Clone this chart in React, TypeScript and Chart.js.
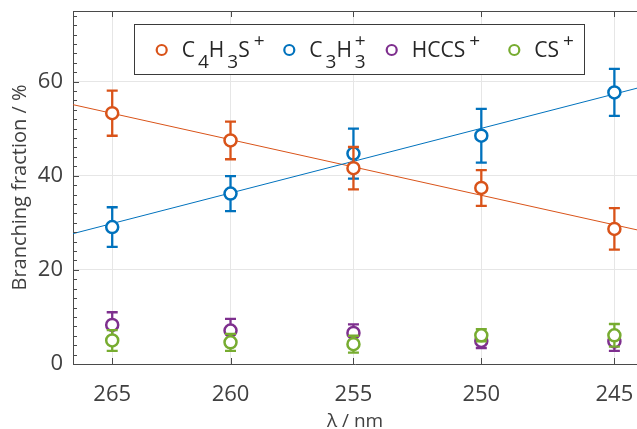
import React, { useEffect, useRef } from 'react';
import { Chart, registerables } from 'chart.js';

Chart.register(...registerables);

// ---------- data ----------
const wavelengths = [265, 260, 255, 250, 245]; // nm (tick positions)
const c4h3s = [53.3, 47.5, 41.6, 37.4, 28.7];
const c4h3sErr = [4.8, 4.0, 4.5, 3.8, 4.4];
const c3h3 = [29.1, 36.2, 44.7, 48.5, 57.7];
const c3h3Err = [4.2, 3.7, 5.3, 5.7, 5.0];
const hccs = [8.3, 7.1, 6.6, 4.9, 4.8];
const hccsErr = [2.7, 2.5, 1.8, 1.5, 2.0];
const cs = [5.0, 4.6, 4.2, 6.1, 6.1];
const csErr = [2.2, 1.8, 1.8, 1.3, 2.4];
const axisLimitsNm = [266.7, 244.17]; // x-axis limits in nm
const c4h3sFit = [55.1, 28.5]; // linear fit values at axis limits
const c3h3Fit = [27.7, 58.6];
const yTicks = [0, 20, 40, 60];
const yMin = 0;
const yMax = 75;
const yMinorStep = 2;

// ---------- style ----------
const ORANGE = '#D95319';
const BLUE = '#0072BD';
const PURPLE = '#7E2F8E';
const GREEN = '#77AC30';
const AXIS = '#4a4a4a';
const TEXT = '#404040';
const GRID = '#e6e6e6';
const FONT = '"Open Sans", "Noto Sans", sans-serif';

const toWn = (nm: number) => 1e7 / nm; // energy-like axis (cm^-1)

type Part = [string, 'n' | 'sub' | 'sup' | 'subsup', string?];
const legendItems: { color: string; parts: Part[] }[] = [
  { color: ORANGE, parts: [['C', 'n'], ['4', 'sub'], ['H', 'n'], ['3', 'sub'], ['S', 'n'], ['+', 'sup']] },
  { color: BLUE, parts: [['C', 'n'], ['3', 'sub'], ['H', 'n'], ['3', 'subsup', '+']] },
  { color: PURPLE, parts: [['HCCS', 'n'], ['+', 'sup']] },
  { color: GREEN, parts: [['CS', 'n'], ['+', 'sup']] },
];

const pts = (vals: number[]) => vals.map((v, i) => ({ x: toWn(wavelengths[i]), y: v }));
const fitPts = (vals: number[]) => vals.map((v, i) => ({ x: toWn(axisLimitsNm[i]), y: v }));

const errorBarPlugin = {
  id: 'errorBars',
  beforeDatasetDraw(chart: any, args: any) {
    const ds = chart.data.datasets[args.index];
    if (!ds.errors) return;
    const { ctx } = chart;
    const ys = chart.scales.y;
    ctx.save();
    ctx.strokeStyle = ds.borderColor;
    ctx.lineWidth = 2.3;
    ctx.beginPath();
    args.meta.data.forEach((el: any, i: number) => {
      const v = ds.data[i].y;
      const e = ds.errors[i];
      const x = el.x;
      const yt = ys.getPixelForValue(v + e);
      const yb = ys.getPixelForValue(v - e);
      ctx.moveTo(x, yt);
      ctx.lineTo(x, yb);
      ctx.moveTo(x - 5.5, yt);
      ctx.lineTo(x + 5.5, yt);
      ctx.moveTo(x - 5.5, yb);
      ctx.lineTo(x + 5.5, yb);
    });
    ctx.stroke();
    ctx.restore();
  },
};

const axesPlugin = {
  id: 'axesDecor',
  afterDatasetsDraw(chart: any) {
    const { ctx, chartArea } = chart;
    const { left, right, top, bottom } = chartArea;
    const xs = chart.scales.x;
    const ys = chart.scales.y;
    ctx.save();
    ctx.strokeStyle = AXIS;
    ctx.lineWidth = 1;
    ctx.beginPath();
    ctx.moveTo(left, Math.round(top) + 0.5);
    ctx.lineTo(right, Math.round(top) + 0.5);
    for (let v = yMin; v <= yMax + 1e-9; v += yMinorStep) {
      const py = Math.round(ys.getPixelForValue(v)) + 0.5;
      const len = yTicks.includes(v) ? 6 : 4;
      ctx.moveTo(left, py);
      ctx.lineTo(left + len, py);
    }
    xs.ticks.forEach((t: any) => {
      const px = Math.round(xs.getPixelForValue(t.value)) + 0.5;
      ctx.moveTo(px, bottom);
      ctx.lineTo(px, bottom - 6);
      ctx.moveTo(px, top);
      ctx.lineTo(px, top + 6);
    });
    ctx.stroke();
    ctx.restore();
  },
};

const legendPlugin = {
  id: 'texLegend',
  afterDraw(chart: any) {
    const { ctx } = chart;
    const boxL = 134.5, boxT = 24.5, boxR = 584.5, boxB = 74.5;
    const offsets = [27.2, 154.8, 257.2, 379.8];
    const cy = 50;
    const base = 57;
    const mainFont = `21px ${FONT}`;
    const subFont = `19px ${FONT}`;
    ctx.save();
    ctx.fillStyle = '#ffffff';
    ctx.fillRect(boxL, boxT, boxR - boxL, boxB - boxT);
    ctx.strokeStyle = '#3a3a3a';
    ctx.lineWidth = 1;
    ctx.strokeRect(boxL, boxT, boxR - boxL, boxB - boxT);
    legendItems.forEach((it, i) => {
      const cx = boxL + offsets[i];
      ctx.beginPath();
      ctx.arc(cx, cy, 5, 0, Math.PI * 2);
      ctx.fillStyle = '#fff';
      ctx.fill();
      ctx.strokeStyle = it.color;
      ctx.lineWidth = 2.2;
      ctx.stroke();
      let x = cx + 20;
      ctx.fillStyle = '#262626';
      ctx.textAlign = 'left';
      ctx.textBaseline = 'alphabetic';
      it.parts.forEach(([t, kind, t2]) => {
        if (kind === 'n') {
          ctx.font = mainFont;
          ctx.fillText(t, x, base);
          x += ctx.measureText(t).width;
        } else if (kind === 'sub') {
          x += 3;
          ctx.font = subFont;
          ctx.fillText(t, x, base + 11);
          x += ctx.measureText(t).width;
        } else if (kind === 'sup') {
          x += 4;
          ctx.font = subFont;
          ctx.fillText(t, x, base - 10);
          x += ctx.measureText(t).width;
        } else {
          x += 3;
          ctx.font = subFont;
          ctx.fillText(t, x, base + 11);
          ctx.fillText(t2 || '', x, base - 10);
          x += Math.max(ctx.measureText(t).width, ctx.measureText(t2 || '').width);
        }
      });
    });
    ctx.restore();
  },
};

const pointSet = (label: string, vals: number[], errs: number[], color: string, order: number) => ({
  label,
  data: pts(vals),
  errors: errs,
  borderColor: color,
  backgroundColor: '#ffffff',
  pointBackgroundColor: '#ffffff',
  pointBorderColor: color,
  pointBorderWidth: 2.5,
  pointRadius: 6,
  pointHoverRadius: 6,
  showLine: false,
  order,
});

const fitSet = (label: string, vals: number[], color: string, order: number) => ({
  label,
  data: fitPts(vals),
  borderColor: color,
  borderWidth: 1,
  pointRadius: 0,
  showLine: true,
  fill: false,
  order,
});

export default function App() {
  const ref = useRef<HTMLCanvasElement | null>(null);

  useEffect(() => {
    if (!ref.current) return;
    Chart.defaults.font.family = FONT;
    const chart = new Chart(ref.current, {
      type: 'scatter',
      data: {
        datasets: [
          fitSet('C4H3S+ fit', c4h3sFit, ORANGE, 10),
          fitSet('C3H3+ fit', c3h3Fit, BLUE, 9),
          pointSet('C4H3S+', c4h3s, c4h3sErr, ORANGE, 3),
          pointSet('C3H3+', c3h3, c3h3Err, BLUE, 4),
          pointSet('HCCS+', hccs, hccsErr, PURPLE, 2),
          pointSet('CS+', cs, csErr, GREEN, 1),
        ] as any,
      },
      options: {
        responsive: false,
        animation: false,
        events: [],
        layout: { autoPadding: false, padding: { top: 11, left: 0, right: 0, bottom: 0 } },
        plugins: { legend: { display: false }, tooltip: { enabled: false } },
        scales: {
          x: {
            type: 'linear',
            min: toWn(axisLimitsNm[0]),
            max: toWn(axisLimitsNm[1]),
            afterBuildTicks: (s: any) => {
              s.ticks = wavelengths.map((l) => ({ value: toWn(l) }));
            },
            afterFit: (s: any) => {
              s.height = 65;
              s.paddingLeft = 0;
              s.paddingRight = 0;
              s.paddingTop = 0;
              s.paddingBottom = 0;
            },
            ticks: {
              callback: (v: any) => String(Math.round(1e7 / Number(v))),
              font: { size: 22, family: FONT },
              color: TEXT,
              padding: 18,
              maxRotation: 0,
              autoSkip: false,
            },
            grid: { color: GRID, drawTicks: false, lineWidth: 1 },
            border: { display: true, color: AXIS, width: 1 },
            title: {
              display: true,
              text: 'λ / nm',
              font: { size: 19, family: FONT, lineHeight: 1 },
              color: TEXT,
              padding: { top: 0, bottom: -2 },
            },
          },
          y: {
            type: 'linear',
            min: yMin,
            max: yMax,
            afterBuildTicks: (s: any) => {
              s.ticks = yTicks.map((v) => ({ value: v }));
            },
            afterFit: (s: any) => {
              s.width = 73;
              s.paddingLeft = 0;
              s.paddingRight = 0;
              s.paddingTop = 0;
              s.paddingBottom = 0;
            },
            ticks: {
              font: { size: 22, family: FONT },
              color: TEXT,
              padding: 10,
            },
            grid: { color: GRID, drawTicks: false, lineWidth: 1 },
            border: { display: true, color: AXIS, width: 1 },
            title: {
              display: true,
              text: 'Branching fraction / %',
              font: { size: 20, family: FONT, lineHeight: 1 },
              color: TEXT,
              padding: { top: 10, bottom: 0 },
            },
          },
        },
      } as any,
      plugins: [errorBarPlugin, axesPlugin, legendPlugin],
    });
    let alive = true;
    if ((document as any).fonts) {
      (document as any).fonts.load(`20px "Open Sans"`).then(() => {
        if (alive) chart.update();
      }).catch(() => {});
    }
    return () => {
      alive = false;
      chart.destroy();
    };
  }, []);

  return (
    <div style={{ position: 'fixed', left: 0, top: 0, width: 637, height: 429, background: '#fff' }}>
      <canvas ref={ref} width={637} height={429} style={{ display: 'block' }} />
    </div>
  );
}
